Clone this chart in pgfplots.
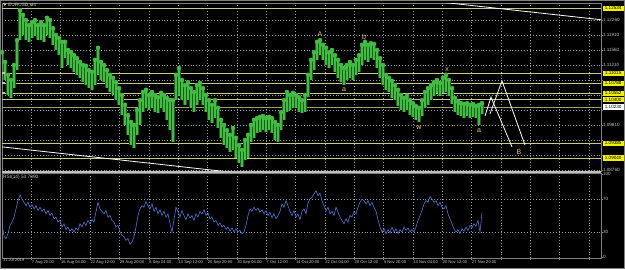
\documentclass[border=0pt]{standalone}
\usepackage{pgfplots}
\pgfplotsset{compat=1.18}
\usepackage{pgfplotstable}
\usepackage{fontspec}
\setmainfont{Liberation Sans}

\definecolor{candle}{RGB}{25,95,25}
\definecolor{candlehi}{RGB}{65,190,65}
\definecolor{rsiblue}{RGB}{85,115,215}
\definecolor{gridc}{RGB}{150,158,168}
\definecolor{lvl}{RGB}{200,200,140}
\definecolor{lbl}{RGB}{225,205,110}
\definecolor{txt}{RGB}{200,200,200}
\definecolor{frm}{RGB}{128,128,128}
\definecolor{hl}{RGB}{240,240,0}

\newcommand\fa{\fontsize{4.1}{4.5}\selectfont}
\newcommand\fb{\fontsize{4.6}{5}\selectfont}
\newcommand\fc{\fontsize{4.8}{5.2}\selectfont}
\newcommand\fd{\fontsize{7}{8}\selectfont}

\tikzset{tag/.style={fill=hl, text=black, font=\fb, inner sep=0pt, minimum width=21pt, minimum height=5.2pt, anchor=west, xshift=1.5pt},
 lmark/.style={fill=lvl, minimum width=3pt, minimum height=2pt, inner sep=0pt, anchor=west},
 wave/.style={text=lbl, font=\fd, inner sep=0pt}}

\pgfplotstableread{
x h l
2 1.1151 1.1114
5 1.1128 1.1086
8 1.1098 1.1051
11 1.1086 1.1044
14 1.1121 1.1067
17 1.1179 1.1109
20 1.1249 1.1179
23 1.1238 1.1191
26 1.1226 1.1179
29 1.1214 1.1175
32 1.1221 1.1184
35 1.1226 1.1189
38 1.1214 1.1179
41 1.1221 1.1179
44 1.1214 1.1175
47 1.1231 1.1191
50 1.1226 1.1184
53 1.1207 1.1168
56 1.1191 1.1156
59 1.1184 1.1144
62 1.1175 1.1114
65 1.1175 1.1137
68 1.1156 1.1121
71 1.1151 1.1114
74 1.1144 1.1105
77 1.1137 1.1098
80 1.1128 1.1091
83 1.1121 1.1081
86 1.1119 1.1074
89 1.1109 1.1067
92 1.1105 1.1063
95 1.1133 1.1074
98 1.1161 1.1098
101 1.1128 1.1086
104 1.1121 1.1081
107 1.1109 1.1067
110 1.1098 1.1058
113 1.1091 1.1051
116 1.1081 1.1039
119 1.1067 1.1028
122 1.1051 1.1004
125 1.1028 1.0981
128 1.1004 1.0958
131 1.0988 1.0934
134 1.0981 1.0927
137 1.1016 1.0958
140 1.1039 1.0981
143 1.1058 1.1011
146 1.1063 1.1021
149 1.1051 1.1016
152 1.1058 1.1021
155 1.1051 1.1011
158 1.1046 1.1009
161 1.1056 1.1021
164 1.1051 1.1011
167 1.1044 1.0993
170 1.1039 1.0969
173 1.1039 1.0941
176 1.1098 1.1039
179 1.1114 1.1051
182 1.1086 1.1039
185 1.1074 1.1028
188 1.1081 1.1039
191 1.1067 1.1021
194 1.1058 1.1011
197 1.1074 1.1028
200 1.1079 1.1039
203 1.1067 1.1028
206 1.1051 1.1011
209 1.1039 1.0993
212 1.1028 1.0986
215 1.1039 1.0997
218 1.1021 1.0974
221 1.0993 1.0951
224 1.0981 1.0934
227 1.0969 1.0927
230 1.0958 1.0918
233 1.0974 1.0923
236 1.0951 1.0904
239 1.0934 1.0892
242 1.0923 1.0883
245 1.0946 1.0899
248 1.0958 1.0904
251 1.0981 1.0941
254 1.0993 1.0951
257 1.0997 1.0962
260 1.1000 1.0965
263 1.1002 1.0969
266 1.0997 1.0965
269 1.1000 1.0969
272 1.0997 1.0962
275 1.0988 1.0946
278 1.0981 1.0941
281 1.1011 1.0969
284 1.1039 1.0993
287 1.1058 1.1011
290 1.1051 1.1016
293 1.1056 1.1021
296 1.1051 1.1021
299 1.1046 1.1011
302 1.1039 1.1009
305 1.1051 1.1011
308 1.1098 1.1046
311 1.1133 1.1086
314 1.1151 1.1109
317 1.1175 1.1133
320 1.1179 1.1144
323 1.1168 1.1133
326 1.1161 1.1121
329 1.1151 1.1114
332 1.1156 1.1121
335 1.1144 1.1105
338 1.1133 1.1091
341 1.1121 1.1081
344 1.1114 1.1074
347 1.1121 1.1086
350 1.1128 1.1091
353 1.1121 1.1086
356 1.1133 1.1098
359 1.1144 1.1105
362 1.1168 1.1121
365 1.1175 1.1133
368 1.1168 1.1128
371 1.1172 1.1137
374 1.1170 1.1133
377 1.1156 1.1114
380 1.1137 1.1091
383 1.1121 1.1074
386 1.1098 1.1063
389 1.1091 1.1058
392 1.1084 1.1044
395 1.1074 1.1039
398 1.1063 1.1025
401 1.1051 1.1016
404 1.1044 1.1011
407 1.1049 1.1016
410 1.1039 1.1004
413 1.1032 1.1000
416 1.1025 1.0993
419 1.1021 1.0988
422 1.1039 1.1002
425 1.1058 1.1021
428 1.1067 1.1028
431 1.1074 1.1039
434 1.1081 1.1049
437 1.1086 1.1056
440 1.1079 1.1049
443 1.1091 1.1056
446 1.1098 1.1058
449 1.1086 1.1049
452 1.1067 1.1030
455 1.1044 1.1011
458 1.1035 1.1004
461 1.1032 1.1002
464 1.1030 1.0997
467 1.1032 1.1002
470 1.1028 1.0997
473 1.1030 1.1000
476 1.1025 1.0997
479 1.1028 1.0981
482 1.1032 1.1007
}\price

\pgfplotstableread{
x r
2 40
4 25
6 22
8 28
10 38
12 42
14 48
16 58
18 68
20 75
22 70
24 66
26 62
28 66
30 60
32 63
34 58
36 62
38 56
40 60
42 55
44 58
46 52
48 56
50 50
52 53
54 46
56 48
58 42
60 44
62 36
64 40
66 33
68 36
70 31
72 34
74 30
76 35
78 32
80 40
82 36
84 42
86 38
88 44
90 40
92 45
94 42
96 55
98 66
100 58
102 55
104 52
106 56
108 48
110 50
112 44
114 42
116 36
118 38
120 30
122 26
124 24
126 20
128 22
130 15
132 18
134 24
136 36
138 50
140 58
142 62
144 60
146 67
148 62
150 58
152 64
154 55
156 60
158 52
160 57
162 50
164 55
166 48
168 52
170 40
172 30
174 45
176 60
178 55
180 48
182 56
184 50
186 45
188 52
190 47
192 50
194 44
196 52
198 48
200 55
202 52
204 57
206 50
208 53
210 46
212 48
214 42
216 44
218 38
220 41
222 36
224 38
226 33
228 36
230 31
232 35
234 30
236 34
238 30
240 32
242 28
244 30
246 38
248 50
250 58
252 55
254 60
256 56
258 59
260 54
262 57
264 52
266 56
268 50
270 54
272 47
274 52
276 46
278 50
280 55
282 64
284 60
286 68
288 62
290 55
292 50
294 56
296 48
298 52
300 45
302 55
304 58
306 52
308 65
310 70
312 72
314 76
316 80
318 74
320 77
322 68
324 62
326 56
328 60
330 52
332 55
334 50
336 60
338 54
340 48
342 44
344 40
346 46
348 42
350 50
352 48
354 55
356 52
358 60
360 66
362 70
364 68
366 64
368 68
370 62
372 66
374 60
376 55
378 45
380 36
382 30
384 34
386 28
388 33
390 29
392 36
394 30
396 34
398 28
400 33
402 30
404 36
406 32
408 35
410 30
412 33
414 30
416 36
418 44
420 50
422 56
424 64
426 68
428 66
430 73
432 70
434 66
436 68
438 62
440 66
442 60
444 58
446 62
448 52
450 46
452 40
454 34
456 30
458 33
460 28
462 34
464 31
466 36
468 32
470 38
472 35
474 40
476 37
478 44
480 30
482 53.7
}\rsi

\begin{document}
\begin{tikzpicture}[x=1pt,y=1pt]
\path[use as bounding box] (0,0) rectangle (625,269);
\fill[black] (0,0) rectangle (625,269);

% ---------------- main price panel ----------------
\begin{axis}[
  at={(2pt,98pt)}, anchor=south west, scale only axis,
  width=599pt, height=168pt,
  xmin=2, xmax=601, ymin=1.08737, ymax=1.12657,
  axis line style={frm, line width=0.6pt},
  clip mode=individual,
  scaled y ticks=false,
  /pgf/number format/assume math mode=true,
  xtick={31.35,60.70,90.05,119.40,148.75,178.10,207.45,236.80,266.15,295.50,324.85,354.20,383.55,412.90,442.25,471.60,500.95,530.30,559.65,589.00},
  xticklabels={},
  xtick style={draw=none},
  xmajorgrids, ymajorgrids,
  grid style={gridc, line width=0.45pt, dash pattern=on 0.7pt off 2.2pt},
  ytick={1.0876,1.0911,1.0946,1.0981,1.1016,1.1051,1.1086,1.1121,1.1156,1.1191,1.1226},
  yticklabels={1.08760,{},{},1.09810,{},{},{},1.11210,1.11560,1.11910,1.12260},
  ytick pos=right, yticklabel pos=right,
  tick align=outside, major tick length=1.8pt,
  ytick style={draw=frm, line width=0.5pt},
  yticklabel style={font=\fb, text=txt, anchor=west, inner sep=0pt, xshift=0pt},
]
% horizontal levels
\addplot[lvl, line width=0.7pt, forget plot] coordinates {(2,1.12534) (601,1.12534)};
\addplot[lvl, line width=0.7pt, forget plot] coordinates {(2,1.11015) (601,1.11015)};
\addplot[lvl, line width=0.7pt, forget plot] coordinates {(2,1.10788) (601,1.10788)};
\addplot[lvl, line width=0.7pt, forget plot] coordinates {(2,1.10552) (601,1.10552)};
\addplot[lvl, line width=0.7pt, forget plot] coordinates {(2,1.10400) (601,1.10400)};
\addplot[lvl!80!black, line width=0.6pt, forget plot] coordinates {(2,1.10230) (601,1.10230)};
\addplot[lvl, line width=0.7pt, forget plot] coordinates {(2,1.09385) (601,1.09385)};
\addplot[lvl, line width=0.7pt, forget plot] coordinates {(2,1.09040) (601,1.09040)};

% candles: high-low ranges
\addplot[candle, only marks, mark=none, forget plot,
  error bars/.cd, y dir=minus, y explicit, error mark=none,
  error bar style={line width=3.05pt, candle}]
  table[x=x, y=h, y error minus expr=\thisrow{h}-\thisrow{l}] {\price};
\addplot[candlehi, only marks, mark=none, forget plot,
  error bars/.cd, y dir=minus, y explicit, error mark=none,
  error bar style={line width=1.5pt, candlehi}]
  table[x=x, y=h, y error minus expr=\thisrow{h}-\thisrow{l}] {\price};

% trend lines
\addplot[white, line width=0.8pt, forget plot] coordinates {(400,1.12783) (601,1.12267)};
\addplot[white, line width=0.8pt, forget plot] coordinates {(2,1.0930) (240,1.08686)};
% projected zigzags
\addplot[white, line width=0.8pt, forget plot] coordinates {(485,1.1002) (491,1.1046) (512,1.0930)};
\addplot[white, line width=0.8pt, forget plot] coordinates {(490,1.1007) (502,1.1084) (525,1.0934)};

% wave labels
\node[wave] at (axis cs:320,1.1192) {A};
\node[wave] at (axis cs:364,1.1187) {b};
\node[wave] at (axis cs:344,1.1063) {a};
\node[wave] at (axis cs:419,1.0976) {w};
\node[wave] at (axis cs:447,1.1110) {x};
\node[wave] at (axis cs:479,1.0969) {a};
\node[wave] at (axis cs:519,1.0918) {B};

% left markers of levels
\node[lmark] at (axis cs:2,1.11015) {};
\node[lmark] at (axis cs:2,1.10788) {};
\node[lmark] at (axis cs:2,1.10552) {};

% price tags on the right
\node[tag] at (axis cs:601,1.12534) {1.12534};
\node[tag] at (axis cs:601,1.11015) {1.11015};
\node[tag] at (axis cs:601,1.10788) {1.10788};
\node[tag] at (axis cs:601,1.10552) {1.10552};
\node[tag] at (axis cs:601,1.10400) {1.10400};
\node[tag] at (axis cs:601,1.09385) {1.09385};
\node[tag] at (axis cs:601,1.09040) {1.09040};
\node[tag, fill=white] at (axis cs:601,1.1023) {1.10230};
\end{axis}

% ---------------- RSI panel ----------------
\begin{axis}[
  at={(2pt,11pt)}, anchor=south west, scale only axis,
  width=599pt, height=85pt,
  xmin=2, xmax=601, ymin=-1.5, ymax=101.5,
  axis line style={frm, line width=0.6pt},
  /pgf/number format/assume math mode=true,
  xtick={31.35,60.70,90.05,119.40,148.75,178.10,207.45,236.80,266.15,295.50,324.85,354.20,383.55,412.90,442.25,471.60,500.95,530.30,559.65,589.00},
  xticklabels={7 Aug 20:00,16 Aug 04:00,22 Aug 12:00,29 Aug 20:00,6 Sep 04:00,13 Sep 12:00,20 Sep 20:00,30 Sep 04:00,7 Oct 12:00,14 Oct 20:00,22 Oct 04:00,29 Oct 12:00,5 Nov 20:00,13 Nov 04:00,20 Nov 12:00,27 Nov 20:00,{},{},{},{}},
  extra x ticks={2.5}, extra x tick labels={31 Jul 2019},
  extra x tick style={grid=none, major tick length=0pt},
  xmajorgrids, ymajorgrids,
  grid style={gridc, line width=0.45pt, dash pattern=on 0.7pt off 2.2pt},
  ytick={30,70}, yticklabels={30,70},
  extra y ticks={0,100}, extra y tick labels={0,100},
  extra y tick style={grid=none},
  xtick pos=bottom, ytick pos=right, yticklabel pos=right,
  tick align=outside, major tick length=1.8pt,
  tick style={draw=frm, line width=0.5pt},
  xticklabel style={font=\fa, text=txt, anchor=north west, inner sep=0pt, yshift=-0.5pt, xshift=0.3pt},
  yticklabel style={font=\fb, text=txt, anchor=west, inner sep=0pt},
]
\addplot[rsiblue, line width=0.6pt, forget plot] table[x=x, y=r] {\rsi};
\end{axis}

% separator, frame and captions
\draw[white!75!black, line width=1.6pt] (2,97) -- (601,97);
\draw[frm, line width=0.8pt] (0.4,0.4) rectangle (624.6,268.6);
\fill[txt] (3,265.6) -- (6.6,265.6) -- (4.8,263.0) -- cycle;
\node[anchor=west, inner sep=0pt, font=\fc, text=txt] at (8,264.2) {EURUSD,H4};
\node[anchor=west, inner sep=0pt, font=\fc, text=txt] at (3,92) {RSI(14) 53.7090};
\end{tikzpicture}
\end{document}
